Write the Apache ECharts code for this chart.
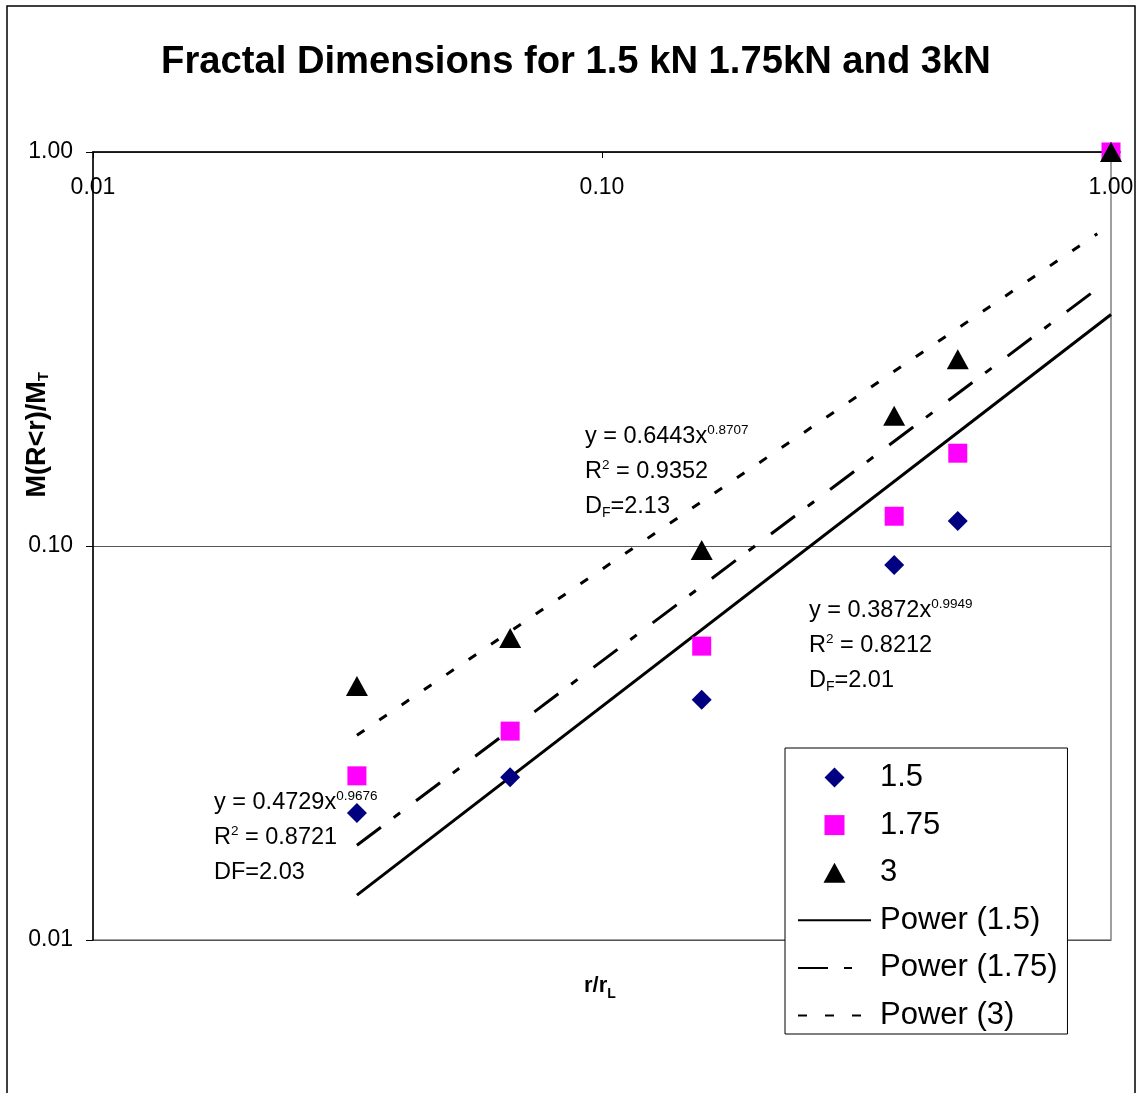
<!DOCTYPE html>
<html>
<head>
<meta charset="utf-8">
<script src="https://cdn.jsdelivr.net/npm/echarts@6/dist/echarts.min.js"></script>
<style>
html,body{margin:0;padding:0;background:#fff;}
#chart{width:1144px;height:1093px;}
</style>
</head>
<body>
<div id="chart"></div>
<script>
// ---- data ----
const xVals = [0.033, 0.066, 0.157, 0.375, 0.5, 1.0];
const y15 = [0.021, 0.0259, 0.0407, 0.0895, 0.1157, 1.0];
const y175 = [0.0261, 0.0339, 0.0557, 0.119, 0.172, 1.0];
const y3 = [0.0441, 0.0584, 0.0977, 0.214, 0.298, 1.0];

// power trendline end points (straight on log-log)
const trend15X = [0.033, 1.0];
const trend15Y = [0.0130, 0.387];
const trend175X = [0.033, 0.94];
const trend175Y = [0.0174, 0.45];
const trend3X = [0.033, 0.94];
const trend3Y = [0.0331, 0.62];

const seriesNames = ['1.5', '1.75', '3', 'Power (1.5)', 'Power (1.75)', 'Power (3)'];
const titleText = 'Fractal Dimensions for 1.5 kN 1.75kN and 3kN';

const FONT = 'Arial, "Liberation Sans", sans-serif';
const zip = (xs, ys) => xs.map((x, i) => [x, ys[i]]);

const chart = echarts.init(document.getElementById('chart'));

const annoRich = {
  a: {fontSize: 23.5, fontFamily: FONT, color: '#000', lineHeight: 35},
  s: {fontSize: 13.5, fontFamily: FONT, color: '#000', lineHeight: 35, verticalAlign: 'top', padding: [4, 0, 0, 0]},
  b: {fontSize: 14, fontFamily: FONT, color: '#000', lineHeight: 35, verticalAlign: 'bottom', padding: [0, 0, 4, 0]}
};

const hideSym = {opacity: 0};

chart.setOption({
  backgroundColor: '#fff',
  animation: false,
  title: {
    text: titleText,
    left: 571, top: 38, textAlign: 'center',
    textStyle: {fontSize: 38.2, fontWeight: 'bold', fontFamily: FONT, color: '#000'}
  },
  grid: {left: 93, top: 152, right: 33, bottom: 153, show: true, borderColor: '#808080', borderWidth: 1.5},
  xAxis: {
    type: 'log', logBase: 10, min: 0.01, max: 1, position: 'top',
    axisLine: {show: true, lineStyle: {color: '#000', width: 1.5}},
    axisTick: {show: true, inside: true, length: 6, lineStyle: {color: '#000'}},
    axisLabel: {inside: true, margin: 24, fontSize: 23, fontFamily: FONT, color: '#000',
      formatter: v => Number(v).toFixed(2)},
    splitLine: {show: false},
    minorTick: {show: false}
  },
  yAxis: {
    type: 'log', logBase: 10, min: 0.01, max: 1,
    axisLine: {show: true, lineStyle: {color: '#000', width: 1.5}},
    axisTick: {show: true, length: 7, lineStyle: {color: '#000'}},
    axisLabel: {margin: 20, fontSize: 23, fontFamily: FONT, color: '#000',
      formatter: v => Number(v).toFixed(2)},
    splitLine: {show: true, lineStyle: {color: '#555', width: 1}}
  },
  legend: {
    orient: 'vertical', left: 785, top: 748,
    backgroundColor: '#fff', borderColor: '#000', borderWidth: 1,
    padding: [14, 10, 3, 12],
    itemWidth: 73, itemHeight: 20, itemGap: 16.6,
    symbolKeepAspect: true,
    textStyle: {fontSize: 31, fontFamily: FONT, color: '#000', lineHeight: 29, padding: [0, 0, 0, 4]},
    data: [
      {name: seriesNames[0], icon: 'path://M10,0L20,10L10,20L0,10Z', symbolKeepAspect: true},
      {name: seriesNames[1], icon: 'path://M0,0L20,0L20,20L0,20Z', symbolKeepAspect: true},
      {name: seriesNames[2], icon: 'path://M11,0L22,20L0,20Z', symbolKeepAspect: true},
      {name: seriesNames[3], itemStyle: hideSym},
      {name: seriesNames[4], itemStyle: hideSym},
      {name: seriesNames[5], itemStyle: hideSym}
    ]
  },
  series: [
    {name: seriesNames[3], type: 'line', data: zip(trend15X, trend15Y), symbol: 'none',
      itemStyle: {color: '#000'},
      lineStyle: {color: '#000', width: 3, type: 'solid'}, z: 2},
    {name: seriesNames[4], type: 'line', data: zip(trend175X, trend175Y), symbol: 'none',
      itemStyle: {color: '#000'},
      lineStyle: {color: '#000', width: 3, type: [30, 16, 8, 20]}, z: 2},
    {name: seriesNames[5], type: 'line', data: zip(trend3X, trend3Y), symbol: 'none',
      itemStyle: {color: '#000'},
      lineStyle: {color: '#000', width: 3, type: [9, 18]}, z: 2},
    {name: seriesNames[0], type: 'scatter', data: zip(xVals, y15), symbol: 'diamond', symbolSize: 20,
      itemStyle: {color: '#000080', opacity: 1}, z: 3},
    {name: seriesNames[1], type: 'scatter', data: zip(xVals, y175), symbol: 'rect', symbolSize: 19,
      itemStyle: {color: '#FF00FF', opacity: 1}, z: 4},
    {name: seriesNames[2], type: 'scatter', data: zip(xVals, y3), symbol: 'triangle', symbolSize: [22, 20],
      itemStyle: {color: '#000', opacity: 1}, z: 5}
  ],
  graphic: [
    {type: 'rect', shape: {x: 7, y: 6, width: 1128, height: 1200}, style: {fill: 'none', stroke: '#000', lineWidth: 1.5}, z: -10, silent: true},
    {type: 'text', left: 24, top: 372, rotation: Math.PI / 2,
      style: {rich: {m: {fontSize: 27, fontWeight: 'bold', fontFamily: FONT, color: '#000'},
                     t: {fontSize: 15, fontWeight: 'bold', fontFamily: FONT, color: '#000', verticalAlign: 'bottom'}},
        text: '{m|M(R<r)/M}{t|T}'}},
    {type: 'text', x: 584, y: 975,
      style: {rich: {m: {fontSize: 22, fontWeight: 'bold', fontFamily: FONT, color: '#000'},
                     t: {fontSize: 14, fontWeight: 'bold', fontFamily: FONT, color: '#000', verticalAlign: 'bottom', padding: [0, 0, -4, 0]}},
        text: '{m|r/r}{t|L}'}},
    {type: 'text', x: 585, y: 419,
      style: {rich: annoRich, text: '{a|y = 0.6443x}{s|0.8707}\n{a|R}{s|2}{a| = 0.9352}\n{a|D}{b|F}{a|=2.13}'}},
    {type: 'text', x: 809, y: 593,
      style: {rich: annoRich, text: '{a|y = 0.3872x}{s|0.9949}\n{a|R}{s|2}{a| = 0.8212}\n{a|D}{b|F}{a|=2.01}'}},
    {type: 'text', x: 214, y: 785,
      style: {rich: annoRich, text: '{a|y = 0.4729x}{s|0.9676}\n{a|R}{s|2}{a| = 0.8721}\n{a|DF=2.03}'}}
  ]
});
</script>
</body>
</html>
